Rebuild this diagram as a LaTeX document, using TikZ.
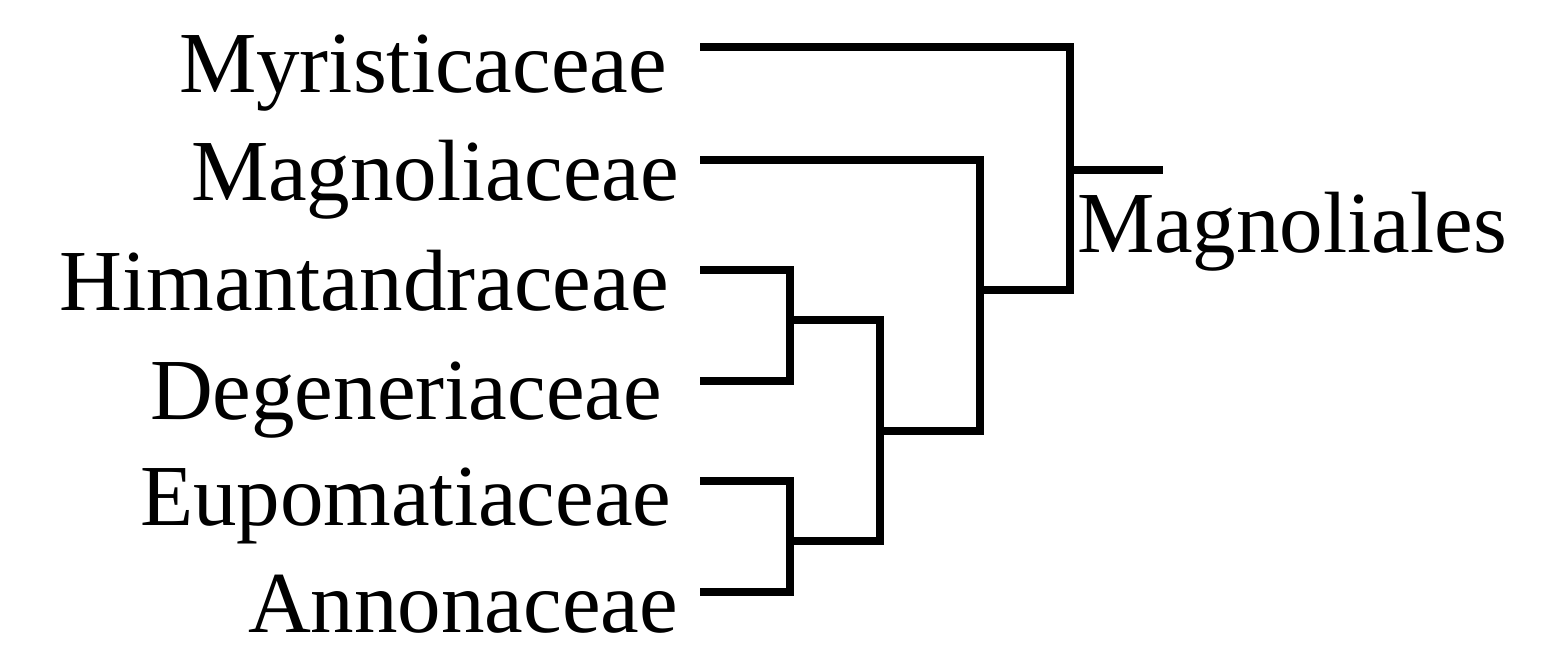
\documentclass[tikz,border=0pt]{standalone}
\usepackage{fontspec}
\setmainfont{Liberation Serif}
\begin{document}
\begin{tikzpicture}[x=0.5pt,y=-0.5pt,
  taxon/.style={anchor=base west, inner sep=0pt, outer sep=0pt, font=\fontsize{43.5}{50}\selectfont},
  branch/.style={line width=4.4pt, line cap=butt, line join=miter, draw=black}]
\useasboundingbox (0,0) rectangle (1554,660);
% labels
\node[taxon] (myr) at (179,92) {Myristicaceae};
\node[taxon] (mag) at (191,200) {Magnoliaceae};
\node[taxon] (him) at (60,310) {Himantandraceae};
\node[taxon] (deg) at (150,419) {Degeneriaceae};
\node[taxon] (eup) at (140,525) {Eupomatiaceae};
\node[taxon] (ann) at (248,632) {Annonaceae};
\node[taxon] (ord) at (1077,252) {Magnoliales};
% leaf ends
\coordinate (lmyr) at (700,47);
\coordinate (lmag) at (700,160);
\coordinate (lhim) at (700,270);
\coordinate (ldeg) at (700,381);
\coordinate (leup) at (700,481);
\coordinate (lann) at (700,592);
% internal nodes
\coordinate (hd) at (790,320);
\coordinate (ea) at (790,541);
\coordinate (hdea) at (880,431);
\coordinate (mhdea) at (980,290);
\coordinate (root) at (1070,170);
\coordinate (stem) at (1163,170);
% branches
\draw[branch] (lhim) -| (hd) |- (ldeg);
\draw[branch] (leup) -| (ea) |- (lann);
\draw[branch] (hd) -| (hdea) |- (ea);
\draw[branch] (lmag) -| (mhdea) |- (hdea);
\draw[branch] (lmyr) -| (root) |- (mhdea);
\draw[branch] (root) -- (stem);
\end{tikzpicture}
\end{document}
